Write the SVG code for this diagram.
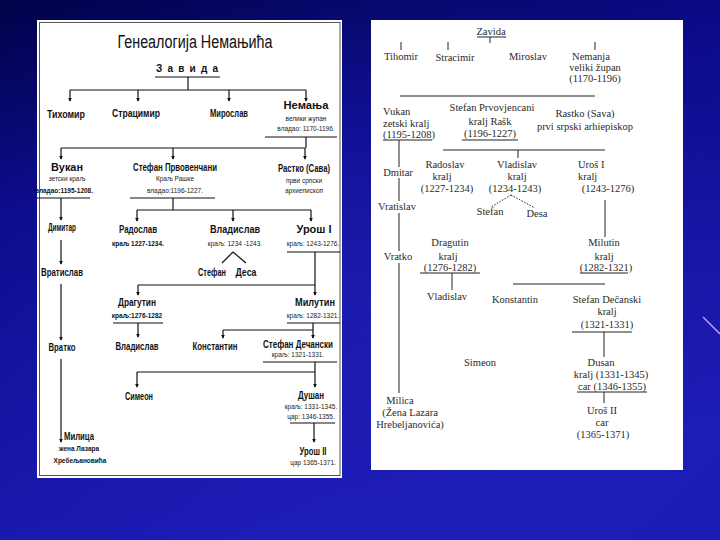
<svg xmlns="http://www.w3.org/2000/svg" width="720" height="540" viewBox="0 0 720 540">
<defs>
<linearGradient id="bg" x1="0" y1="0" x2="0.35" y2="1">
<stop offset="0" stop-color="#02024a"/>
<stop offset="0.35" stop-color="#0b0b8a"/>
<stop offset="1" stop-color="#1c1cb6"/>
</linearGradient>
<radialGradient id="glow" cx="0.5" cy="0.55" r="0.6">
<stop offset="0" stop-color="#2a2ac8" stop-opacity="0.35"/>
<stop offset="1" stop-color="#2a2ac8" stop-opacity="0"/>
</radialGradient>
<marker id="ah" viewBox="0 0 6 6" refX="5" refY="3" markerWidth="4" markerHeight="4" orient="auto" markerUnits="userSpaceOnUse">
<path d="M0,0 L6,3 L0,6 Z" fill="#111"/>
</marker>
<style>
.ln{stroke:#111;stroke-width:1.2;fill:none}
.la{stroke:#111;stroke-width:1.2;fill:none;marker-end:url(#ah)}
.rl{stroke:#222;stroke-width:1;fill:none}
.nm{font-family:"Liberation Sans",Arial,sans-serif;font-weight:bold;fill:#111;text-anchor:middle;font-size:10px}
.sb{font-family:"Liberation Sans",Arial,sans-serif;fill:#222;text-anchor:middle;font-size:6.5px}
.sbb{font-family:"Liberation Sans",Arial,sans-serif;font-weight:bold;fill:#111;text-anchor:middle;font-size:6.5px}
.rt{font-family:"Liberation Serif","Times New Roman",serif;fill:#2a2a2a;font-size:10.5px;text-anchor:middle}
.rs{font-family:"Liberation Serif","Times New Roman",serif;fill:#2a2a2a;font-size:10.5px;text-anchor:start}
</style>
</defs>
<rect x="0" y="0" width="720" height="540" fill="url(#bg)"/>
<rect x="0" y="0" width="720" height="540" fill="url(#glow)"/>
<line x1="703" y1="317" x2="720" y2="334" stroke="#c8a8ff" stroke-width="1.3"/>

<!-- LEFT PANEL -->
<g id="left-panel">
<rect x="37" y="20" width="305" height="458" fill="#ffffff"/>
<rect x="39.5" y="22.5" width="300.5" height="453" fill="none" stroke="#555" stroke-width="1"/>
<text x="195" y="48" font-family="Liberation Sans,Arial,sans-serif" font-size="18" fill="#111" text-anchor="middle" textLength="155" lengthAdjust="spacingAndGlyphs">Генеалогија Немањића</text>
</g>

<g id="connectors-left">
<line class="ln" x1="155" y1="77" x2="220" y2="77"/>
<line class="ln" x1="188" y1="77" x2="188" y2="90"/>
<line class="ln" x1="70" y1="90" x2="306" y2="90"/>
<line class="la" x1="70" y1="90" x2="70" y2="101"/>
<line class="la" x1="138" y1="90" x2="138" y2="101"/>
<line class="la" x1="229" y1="90" x2="229" y2="101"/>
<line class="la" x1="306" y1="90" x2="306" y2="101"/>
<line class="ln" x1="265" y1="137" x2="337" y2="137"/>
<line class="ln" x1="306" y1="137" x2="306" y2="148"/>
<line class="ln" x1="61" y1="148" x2="305" y2="148"/>
<line class="la" x1="61" y1="148" x2="61" y2="159"/>
<line class="la" x1="173" y1="148" x2="173" y2="159"/>
<line class="la" x1="305" y1="148" x2="305" y2="159"/>
<line class="ln" x1="37" y1="198" x2="90" y2="198"/>
<line class="la" x1="61" y1="198" x2="61" y2="220"/>
<line class="la" x1="61" y1="240" x2="61" y2="264"/>
<line class="la" x1="61" y1="284" x2="61" y2="340"/>
<line class="la" x1="61" y1="359" x2="61" y2="442"/>
<line class="ln" x1="130" y1="198" x2="215" y2="198"/>
<line class="ln" x1="173" y1="198" x2="173" y2="210"/>
<line class="ln" x1="137" y1="210" x2="311" y2="210"/>
<line class="la" x1="137" y1="210" x2="137" y2="221"/>
<line class="la" x1="233" y1="210" x2="233" y2="221"/>
<line class="la" x1="311" y1="210" x2="311" y2="221"/>
<line class="ln" x1="233" y1="252" x2="222" y2="263"/>
<line class="ln" x1="233" y1="252" x2="246" y2="263"/>
<line class="ln" x1="287" y1="252" x2="340" y2="252"/>
<line class="ln" x1="315" y1="252" x2="315" y2="285"/>
<line class="ln" x1="138" y1="285" x2="315" y2="285"/>
<line class="la" x1="138" y1="285" x2="138" y2="295"/>
<line class="la" x1="315" y1="285" x2="315" y2="295"/>
<line class="ln" x1="113" y1="323" x2="163" y2="323"/>
<line class="la" x1="138" y1="323" x2="138" y2="337"/>
<line class="ln" x1="287" y1="323" x2="340" y2="323"/>
<line class="ln" x1="313" y1="323" x2="313" y2="330"/>
<line class="ln" x1="223" y1="330" x2="313" y2="330"/>
<line class="la" x1="223" y1="330" x2="223" y2="338"/>
<line class="la" x1="313" y1="330" x2="313" y2="338"/>
<line class="ln" x1="263" y1="362" x2="337" y2="362"/>
<line class="ln" x1="315" y1="362" x2="315" y2="372"/>
<line class="ln" x1="137" y1="372" x2="315" y2="372"/>
<line class="la" x1="137" y1="372" x2="137" y2="387"/>
<line class="la" x1="315" y1="372" x2="315" y2="387"/>
<line class="ln" x1="290" y1="423" x2="335" y2="423"/>
<line class="la" x1="314" y1="423" x2="314" y2="442"/>
</g>

<g id="l-zavida"><text class="nm" x="187" y="72" font-size="12" textLength="62" lengthAdjust="spacing">З а в и д а</text></g>
<g id="l-tihomir"><text class="nm" x="66" y="118" textLength="38" lengthAdjust="spacingAndGlyphs">Тихомир</text></g>
<g id="l-stracimir"><text class="nm" x="136" y="117" font-weight="normal" textLength="48" lengthAdjust="spacingAndGlyphs">Страцимир</text></g>
<g id="l-miroslav"><text class="nm" x="229" y="117" textLength="38" lengthAdjust="spacingAndGlyphs">Мирослав</text></g>
<g id="l-nemanja">
<text class="nm" x="306" y="109" font-size="13" font-weight="normal" textLength="45" lengthAdjust="spacingAndGlyphs">Немања</text>
<text class="sb" x="306" y="121">велики жупан</text>
<text class="sb" x="306" y="131">владао: 1170-1196.</text>
</g>
<g id="l-vukan">
<text class="nm" x="67" y="171" font-weight="normal" textLength="32" lengthAdjust="spacingAndGlyphs">Вукан</text>
<text class="sb" x="67" y="181">зетски краљ</text>
<text class="sbb" x="64" y="193">владао:1195-1208.</text>
</g>
<g id="l-stefan-p">
<text class="nm" x="175" y="171" font-weight="normal" textLength="84" lengthAdjust="spacingAndGlyphs">Стефан Првовенчани</text>
<text class="sb" x="175" y="181">Краљ Рашке</text>
<text class="sb" x="175" y="193">владао:1196-1227.</text>
</g>
<g id="l-rastko">
<text class="nm" x="304" y="172" font-weight="normal" textLength="52" lengthAdjust="spacingAndGlyphs">Растко (Сава)</text>
<text class="sb" x="304" y="183">први српски</text>
<text class="sb" x="304" y="193">архиепископ</text>
</g>
<g id="l-dimitar"><text class="nm" x="62" y="231" font-weight="normal" textLength="28" lengthAdjust="spacingAndGlyphs">Димитар</text></g>
<g id="l-radoslav">
<text class="nm" x="138" y="233" font-weight="normal" textLength="38" lengthAdjust="spacingAndGlyphs">Радослав</text>
<text class="sbb" x="138" y="246">краљ 1227-1234.</text>
</g>
<g id="l-vladislav">
<text class="nm" x="235" y="233" font-weight="normal" textLength="50" lengthAdjust="spacingAndGlyphs">Владислав</text>
<text class="sb" x="235" y="246">краљ: 1234 -1243.</text>
</g>
<g id="l-uros1">
<text class="nm" x="314" y="233" font-weight="normal" textLength="35" lengthAdjust="spacingAndGlyphs">Урош I</text>
<text class="sb" x="313" y="246">краљ: 1243-1276.</text>
</g>
<g id="l-vratislav"><text class="nm" x="62" y="276" textLength="42" lengthAdjust="spacingAndGlyphs">Вратислав</text></g>
<g id="l-stefan"><text class="nm" x="212" y="276" font-weight="normal" textLength="28" lengthAdjust="spacingAndGlyphs">Стефан</text></g>
<g id="l-desa"><text class="nm" x="246" y="276" font-weight="normal" textLength="21" lengthAdjust="spacingAndGlyphs">Деса</text></g>
<g id="l-dragutin">
<text class="nm" x="137" y="306" font-weight="normal" textLength="38" lengthAdjust="spacingAndGlyphs">Драгутин</text>
<text class="sbb" x="137" y="318">краљ:1276-1282</text>
</g>
<g id="l-milutin">
<text class="nm" x="315" y="306" textLength="40" lengthAdjust="spacingAndGlyphs">Милутин</text>
<text class="sb" x="313" y="318">краљ: 1282-1321.</text>
</g>
<g id="l-vratko"><text class="nm" x="62" y="351" font-weight="normal" textLength="27" lengthAdjust="spacingAndGlyphs">Вратко</text></g>
<g id="l-vladislav2"><text class="nm" x="137" y="350" font-weight="normal" textLength="43" lengthAdjust="spacingAndGlyphs">Владислав</text></g>
<g id="l-konstantin"><text class="nm" x="215" y="350" textLength="45" lengthAdjust="spacingAndGlyphs">Константин</text></g>
<g id="l-decanski">
<text class="nm" x="298" y="348" font-weight="normal" textLength="70" lengthAdjust="spacingAndGlyphs">Стефан Дечански</text>
<text class="sb" x="298" y="357">краљ: 1321-1331.</text>
</g>
<g id="l-simeon"><text class="nm" x="139" y="400" textLength="28" lengthAdjust="spacingAndGlyphs">Симеон</text></g>
<g id="l-dusan">
<text class="nm" x="311" y="399" textLength="26" lengthAdjust="spacingAndGlyphs">Душан</text>
<text class="sb" x="311" y="409">краљ: 1331-1345.</text>
<text class="sb" x="311" y="419">цар: 1346-1355.</text>
</g>
<g id="l-milica">
<text class="nm" x="79" y="440" font-weight="normal" textLength="30" lengthAdjust="spacingAndGlyphs">Милица</text>
<text class="sbb" x="79" y="451">жена Лазара</text>
<text class="sbb" x="80" y="463">Хребељановића</text>
</g>
<g id="l-uros2">
<text class="nm" x="313" y="455" textLength="27" lengthAdjust="spacingAndGlyphs">Урош II</text>
<text class="sb" x="313" y="465">цар 1365-1371.</text>
</g>

<!-- RIGHT PANEL -->
<g id="right-panel">
<rect x="371" y="20" width="312" height="450" fill="#ffffff"/>
</g>

<g id="connectors-right">
<line class="rl" x1="477" y1="37" x2="506" y2="37"/>
<line class="rl" x1="490" y1="37" x2="490" y2="43"/>
<line class="rl" x1="401" y1="42" x2="401" y2="50"/>
<line class="rl" x1="448" y1="42" x2="448" y2="50"/>
<line class="rl" x1="595" y1="42" x2="595" y2="50"/>
<line class="rl" x1="400" y1="96" x2="595" y2="96"/>
<line class="rl" x1="383" y1="140" x2="432" y2="140"/>
<line class="rl" x1="462" y1="140" x2="518" y2="140"/>
<line class="rl" x1="399" y1="140" x2="399" y2="167"/>
<line class="rl" x1="399" y1="178" x2="399" y2="201"/>
<line class="rl" x1="399" y1="213" x2="399" y2="251"/>
<line class="rl" x1="399" y1="263" x2="399" y2="393"/>
<line class="rl" x1="443" y1="150" x2="605" y2="150"/>
<line class="rl" x1="518" y1="150" x2="518" y2="158"/>
<line class="rl" x1="511" y1="195" x2="491" y2="207" stroke-dasharray="1.5,1.5"/>
<line class="rl" x1="511" y1="195" x2="535" y2="208" stroke-dasharray="1.5,1.5"/>
<line class="rl" x1="605" y1="200" x2="605" y2="237"/>
<line class="rl" x1="420" y1="273" x2="480" y2="273"/>
<line class="rl" x1="580" y1="273" x2="628" y2="273"/>
<line class="rl" x1="452" y1="273" x2="452" y2="290"/>
<line class="rl" x1="513" y1="284" x2="605" y2="284"/>
<line class="rl" x1="572" y1="332" x2="632" y2="332"/>
<line class="rl" x1="604" y1="332" x2="604" y2="357"/>
<line class="rl" x1="577" y1="392" x2="647" y2="392"/>
<line class="rl" x1="604" y1="392" x2="604" y2="403"/>
</g>

<g id="r-zavida"><text class="rt" x="491" y="35">Zavida</text></g>
<g id="r-tihomir"><text class="rt" x="401" y="60">Tihomir</text></g>
<g id="r-stracimir"><text class="rt" x="455" y="61">Stracimir</text></g>
<g id="r-miroslav"><text class="rt" x="528" y="60">Miroslav</text></g>
<g id="r-nemanja">
<text class="rt" x="591" y="60">Nemanja</text>
<text class="rt" x="595" y="71">veliki župan</text>
<text class="rt" x="595" y="82">(1170-1196)</text>
</g>
<g id="r-vukan">
<text class="rs" x="383" y="115">Vukan</text>
<text class="rs" x="383" y="127">zetski kralj</text>
<text class="rs" x="383" y="138">(1195-1208)</text>
</g>
<g id="r-stefan-p">
<text class="rt" x="492" y="111">Stefan Prvovjencani</text>
<text class="rt" x="490" y="125">kralj Rašk</text>
<text class="rt" x="490" y="137">(1196-1227)</text>
</g>
<g id="r-rastko">
<text class="rt" x="585" y="117">Rastko (Sava)</text>
<text class="rt" x="585" y="130">prvi srpski arhiepiskop</text>
</g>
<g id="r-dmitar"><text class="rt" x="398" y="176">Dmitar</text></g>
<g id="r-radoslav">
<text class="rt" x="445" y="168">Radoslav</text>
<text class="rt" x="442" y="180">kralj</text>
<text class="rt" x="447" y="192">(1227-1234)</text>
</g>
<g id="r-vladislav">
<text class="rt" x="517" y="168">Vladislav</text>
<text class="rt" x="517" y="180">kralj</text>
<text class="rt" x="515" y="192">(1234-1243)</text>
</g>
<g id="r-uros1">
<text class="rs" x="578" y="168">Uroš I</text>
<text class="rs" x="578" y="180">kralj</text>
<text class="rt" x="608" y="192">(1243-1276)</text>
</g>
<g id="r-vratislav"><text class="rt" x="397" y="210">Vratislav</text></g>
<g id="r-stefan"><text class="rt" x="490" y="215">Stefan</text></g>
<g id="r-desa"><text class="rt" x="537" y="217">Desa</text></g>
<g id="r-dragutin">
<text class="rt" x="450" y="246">Dragutin</text>
<text class="rt" x="448" y="260">kralj</text>
<text class="rt" x="450" y="271">(1276-1282)</text>
</g>
<g id="r-vratko"><text class="rt" x="398" y="260">Vratko</text></g>
<g id="r-milutin">
<text class="rt" x="604" y="246">Milutin</text>
<text class="rt" x="604" y="260">kralj</text>
<text class="rt" x="606" y="271">(1282-1321)</text>
</g>
<g id="r-vladislav2"><text class="rt" x="447" y="300">Vladislav</text></g>
<g id="r-konstantin"><text class="rt" x="515" y="303">Konstantin</text></g>
<g id="r-decanski">
<text class="rt" x="607" y="303">Stefan Dečanski</text>
<text class="rt" x="607" y="315">kralj</text>
<text class="rt" x="607" y="328">(1321-1331)</text>
</g>
<g id="r-simeon"><text class="rt" x="480" y="366">Simeon</text></g>
<g id="r-dusan">
<text class="rt" x="601" y="366">Dusan</text>
<text class="rt" x="611" y="378">kralj (1331-1345)</text>
<text class="rt" x="612" y="390">car (1346-1355)</text>
</g>
<g id="r-milica">
<text class="rt" x="400" y="404">Milica</text>
<text class="rt" x="410" y="416">(Žena Lazara</text>
<text class="rt" x="410" y="428">Hrebeljanovića)</text>
</g>
<g id="r-uros2">
<text class="rt" x="602" y="414">Uroš II</text>
<text class="rt" x="602" y="426">car</text>
<text class="rt" x="603" y="438">(1365-1371)</text>
</g>
</svg>
